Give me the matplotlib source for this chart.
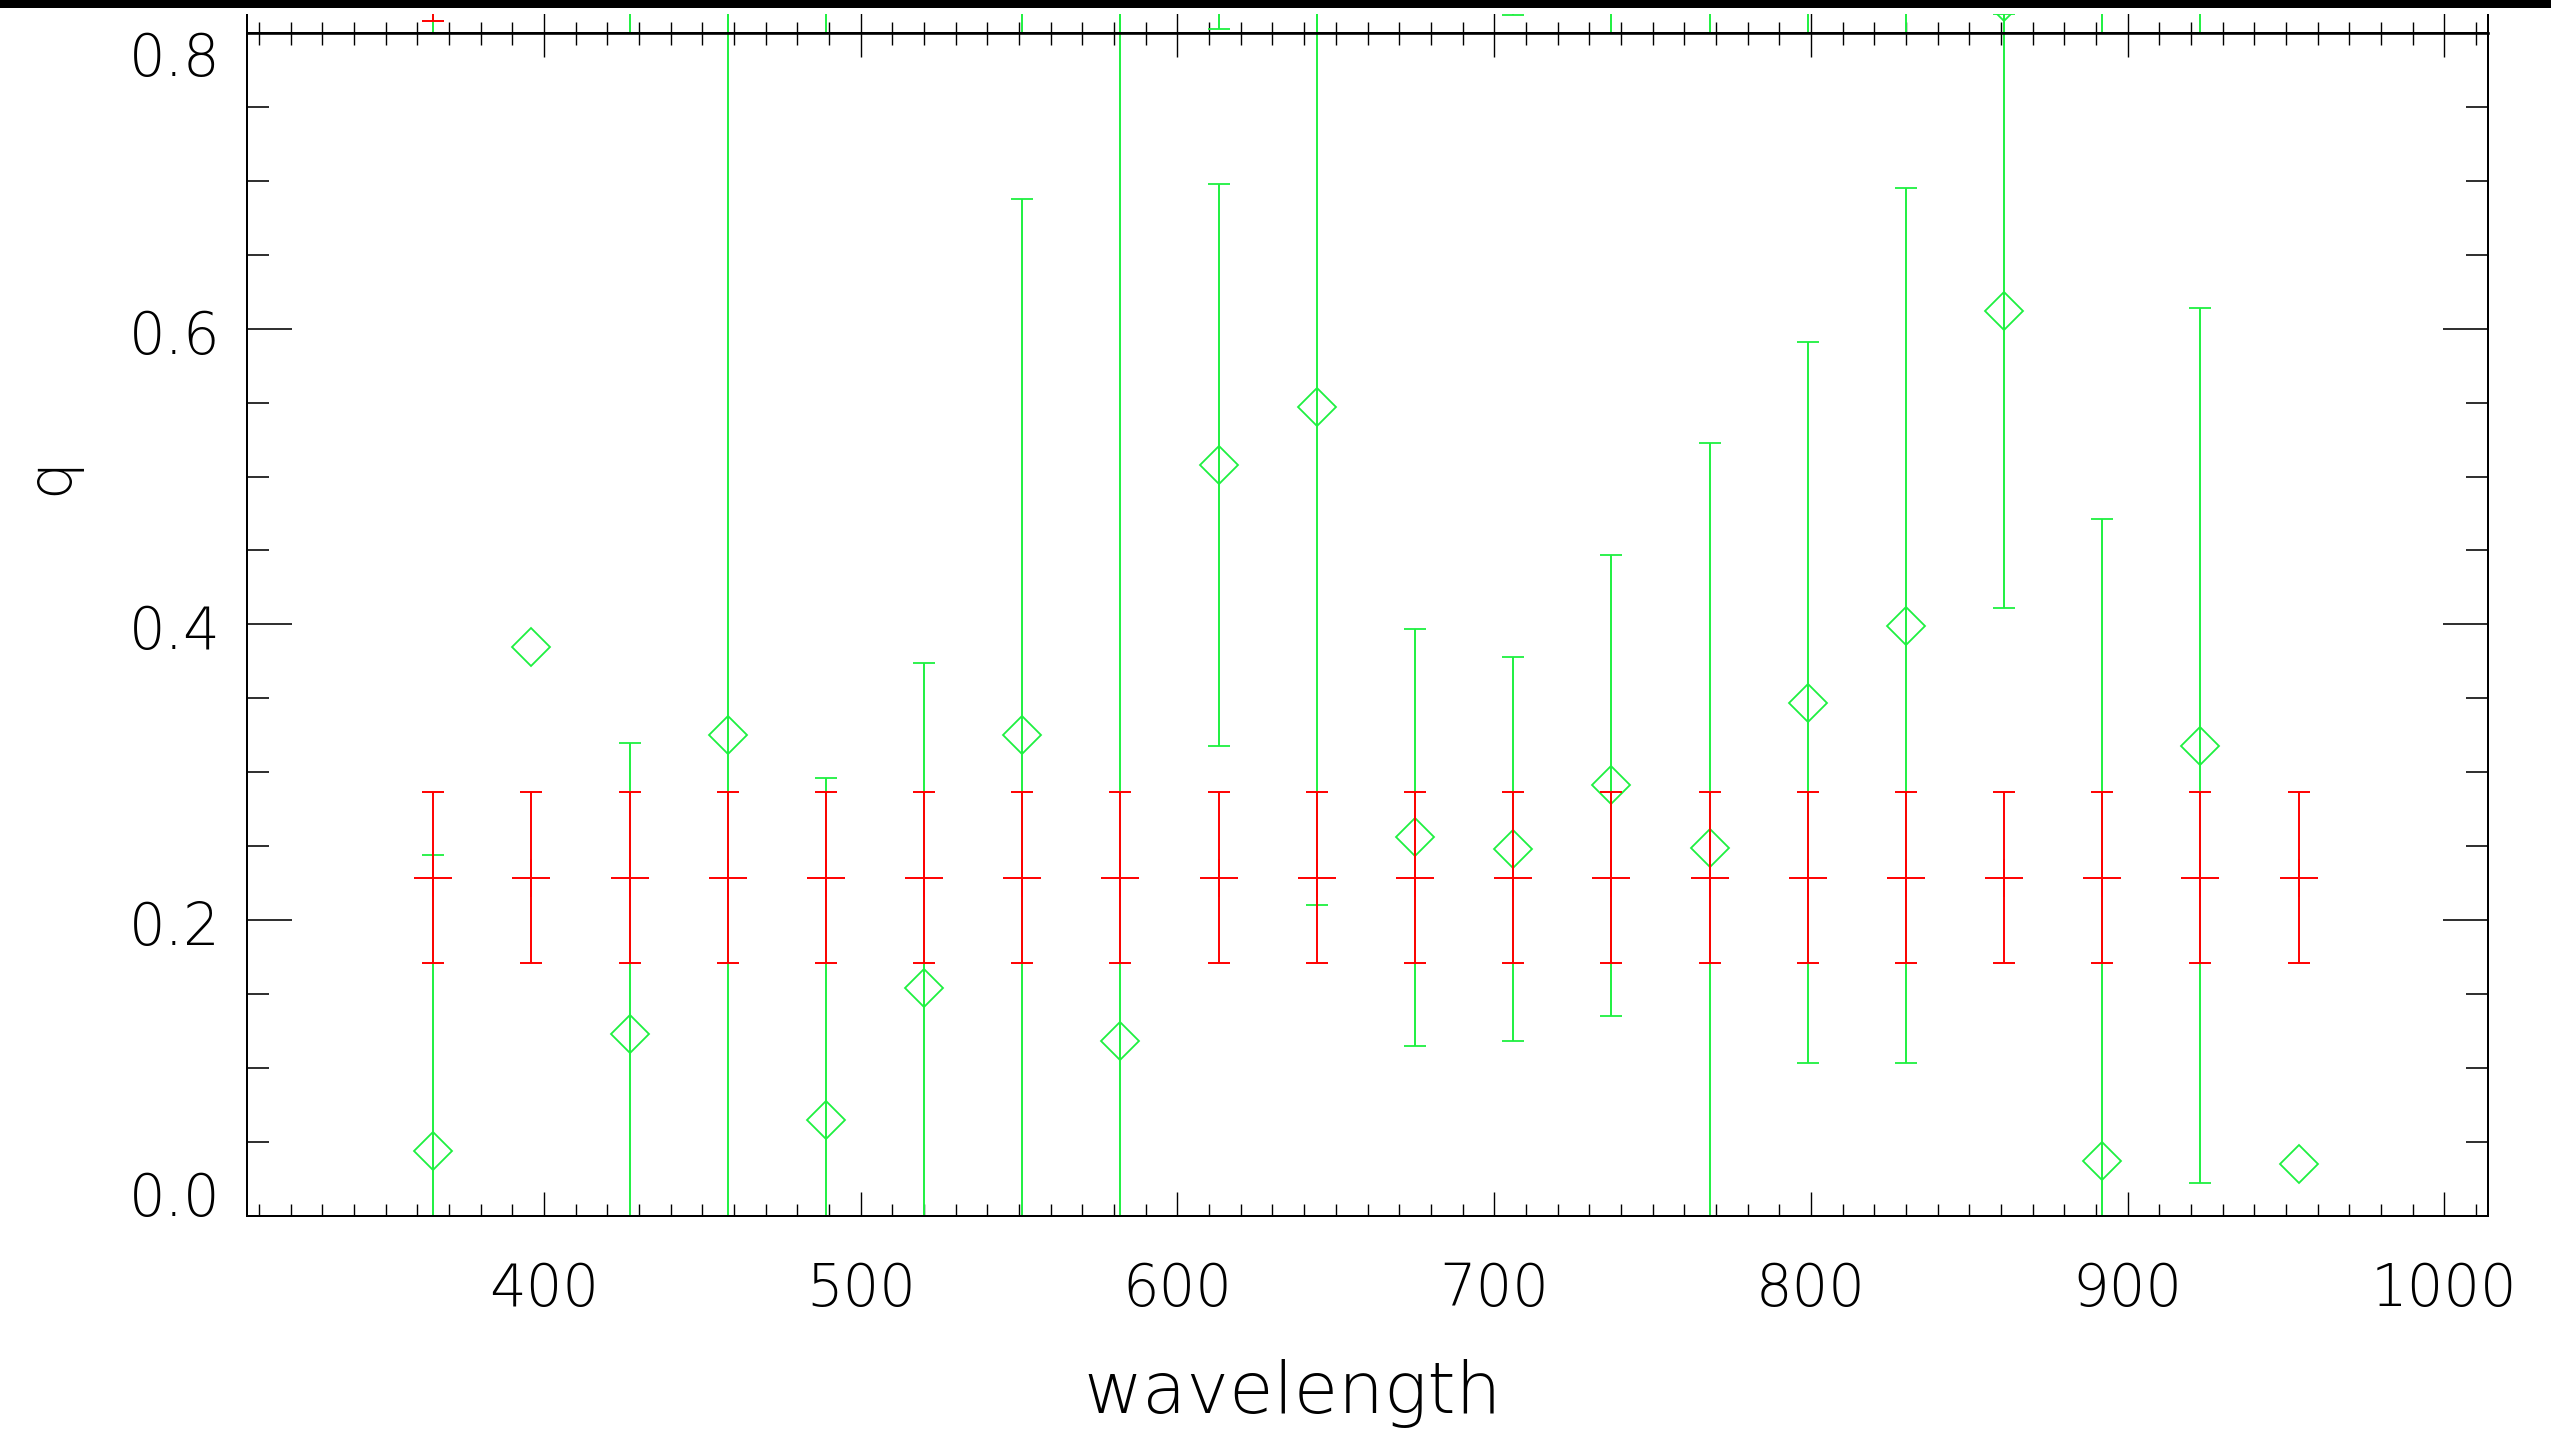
import numpy as np
import matplotlib
matplotlib.use("Agg")
import matplotlib.pyplot as plt
import matplotlib.font_manager as fm
from matplotlib.ticker import MultipleLocator
from matplotlib.transforms import ScaledTranslation
from matplotlib.patches import Rectangle

# ---------------- data ----------------
wavelength = [365, 396, 427, 458, 489, 520, 551, 582, 613, 644,
              675, 706, 737, 768, 799, 830, 861, 892, 923, 954]

# model (red)
model_q = [0.2286] * 20
model_err = [0.058] * 20

# measured (green)
meas_q = [0.044, 0.385, 0.123, 0.325, 0.065, 0.154, 0.325, 0.118, 0.508, 0.547,
          0.256, 0.248, 0.291, 0.249, 0.347, 0.399, 0.612, 0.037, 0.318, 0.035]
meas_err = [0.200, np.nan, 0.197, 0.550, 0.231, 0.220, 0.363, 0.750, 0.190, 0.337,
            0.141, 0.130, 0.156, 0.274, 0.244, 0.296, 0.201, 0.434, 0.296, np.nan]

# panel above (only its lowest strip is visible)
upper_q = [0.30, 0.45, 0.22, 0.35, 0.18, 0.40, 0.26, 0.31, 0.2029, 0.36,
           0.50, 0.1925, 0.28, 0.24, 0.21, 0.33, 0.0212, 0.27, 0.19, 0.46]
upper_err = [0.35, 0.20, 0.30, 0.40, 0.25, 0.20, 0.30, 0.50, 0.20, 0.42,
             0.25, 0.18, 0.32, 0.28, 0.26, 0.36, 0.12, 0.31, 0.24, np.nan]
upper_red_x = [365]
upper_red_q = [0.0661]
upper_red_err = [0.058]

xticks = [400, 500, 600, 700, 800, 900, 1000]
xtick_labels = ["400", "500", "600", "700", "800", "900", "1000"]
yticks = [0.0, 0.2, 0.4, 0.6, 0.8]
ytick_labels = ["0.0", "0.2", "0.4", "0.6", "0.8"]

# ---------------- fonts ----------------
def has_font(name, maxw):
    for f in fm.fontManager.ttflist:
        if f.name == name:
            w = f.weight
            if not isinstance(w, (int, float)):
                w = fm.weight_dict.get(w, 400)
            if w <= maxw:
                return True
    return False

if has_font("Roboto", 150):
    FONT, FW, TS, LS, QS = "Roboto", 100, 42.5, 55, 46
elif has_font("DejaVu Sans", 250):
    FONT, FW, TS, LS, QS = "DejaVu Sans", 200, 41.5, 52, 43
elif has_font("Roboto", 300):
    FONT, FW, TS, LS, QS = "Roboto", 300, 42.5, 55, 46
else:
    FONT, FW, TS, LS, QS = "DejaVu Sans", "normal", 41.5, 52, 43
plt.rcParams["font.family"] = [FONT, "DejaVu Sans"]

GREEN = "#1ef040"
RED = "#ff0000"

W, H, DPI = 2551, 1432, 100
fig = plt.figure(figsize=(W / DPI, H / DPI), dpi=DPI, facecolor="white")

L, R, T, B = 247, 2488, 33, 1215.7
ax = fig.add_axes([L / W, 1 - B / H, (R - L) / W, (B - T) / H])
ax_up = fig.add_axes([L / W, 1 - T / H, (R - L) / W, (B - T) / H])

XMIN, XMAX = 306.2, 1013.8
for a in (ax, ax_up):
    a.set_xlim(XMIN, XMAX)
    a.set_ylim(0, 0.8)
    a.xaxis.set_major_locator(MultipleLocator(100))
    a.xaxis.set_minor_locator(MultipleLocator(10))
ax_up.patch.set_alpha(0)

# ---------------- main panel ----------------
g = ax.errorbar(wavelength, meas_q, yerr=meas_err, fmt="D", mfc="none", mec=GREEN,
                ms=19.2, mew=1.3, ecolor=GREEN, elinewidth=1.4, capsize=7.9,
                capthick=1.4, zorder=2)
r = ax.errorbar(wavelength, model_q, yerr=model_err, fmt="+", color=RED, ms=27.4,
                mew=1.4, elinewidth=1.4, capsize=7.9, capthick=1.4, zorder=3)
# error bars are clipped at the bottom axis only
for cont in (g, r):
    for art in list(cont[1]) + list(cont[2]):
        art.set_clip_path(Rectangle((0, 0), 1, 2, transform=ax.transAxes))

# ---------------- upper panel ----------------
ax_up.errorbar(wavelength, upper_q, yerr=upper_err, fmt="D", mfc="none", mec=GREEN,
               ms=19.2, mew=1.3, ecolor=GREEN, elinewidth=1.4, capsize=7.9,
               capthick=1.4, zorder=2)
ax_up.errorbar(upper_red_x, upper_red_q, yerr=upper_red_err, fmt="+", color=RED,
               ms=27.4, mew=1.4, elinewidth=1.4, capsize=7.9, capthick=1.4, zorder=3)

# ---------------- axes styling ----------------
px = 72 / DPI
for s in ax.spines.values():
    s.set_linewidth(2 * px)
ax.spines["top"].set_linewidth(2.6 * px)
ax.yaxis.set_major_locator(MultipleLocator(0.2))
ax.yaxis.set_minor_locator(MultipleLocator(0.05))
ax.tick_params(axis="x", which="major", direction="in", length=24 * px, width=1.4 * px,
               top=True, bottom=True, labelbottom=False)
ax.tick_params(axis="x", which="minor", direction="in", length=12 * px, width=1.4 * px,
               top=True, bottom=True)
ax.tick_params(axis="y", which="major", direction="in", length=45 * px, width=1.6 * px,
               left=True, right=True, labelleft=False)
ax.tick_params(axis="y", which="minor", direction="in", length=22 * px, width=1.6 * px,
               left=True, right=True)

ax_up.spines["top"].set_visible(False)
for k in ("left", "right", "bottom"):
    ax_up.spines[k].set_linewidth(2 * px)
ax_up.set_yticks([])
ax_up.tick_params(axis="x", which="major", direction="in", length=24 * px,
                  width=1.4 * px, labelbottom=False)
ax_up.tick_params(axis="x", which="minor", direction="in", length=11 * px,
                  width=1.4 * px)

# ---------------- tick labels ----------------
def off(dx, dy):
    return ScaledTranslation(dx / DPI, -dy / DPI, fig.dpi_scale_trans)

for v, s in zip(xticks, xtick_labels):
    ax.text(v, 0, s, transform=ax.get_xaxis_transform() + off(0, 90),
            ha="center", va="baseline", fontsize=TS, fontweight=FW, clip_on=False)

ylab_drop = [0, 25, 25, 25, 43]
for v, s, d in zip(yticks, ytick_labels, ylab_drop):
    ax.text(0, v, s, transform=ax.get_yaxis_transform() + off(-26, d),
            ha="right", va="baseline", fontsize=TS, fontweight=FW, clip_on=False)

fig.text(1293 / W, 1 - 1413 / H, "wavelength", ha="center", va="baseline",
         fontsize=LS, fontweight=FW)
fig.text(51 / W, 1 - 476 / H, "q", ha="center", va="center", rotation=90,
         fontsize=QS, fontweight=FW)

# ---------------- window edge at the top ----------------
fig.add_artist(Rectangle((0, 1 - 14 / H), 1, 6 / H, transform=fig.transFigure,
                         facecolor="white", edgecolor="none", zorder=10))
fig.add_artist(Rectangle((0, 1 - 8 / H), 1, 8 / H, transform=fig.transFigure,
                         facecolor="black", edgecolor="none", zorder=11))

fig.savefig("out.png", dpi=DPI, facecolor="white")
